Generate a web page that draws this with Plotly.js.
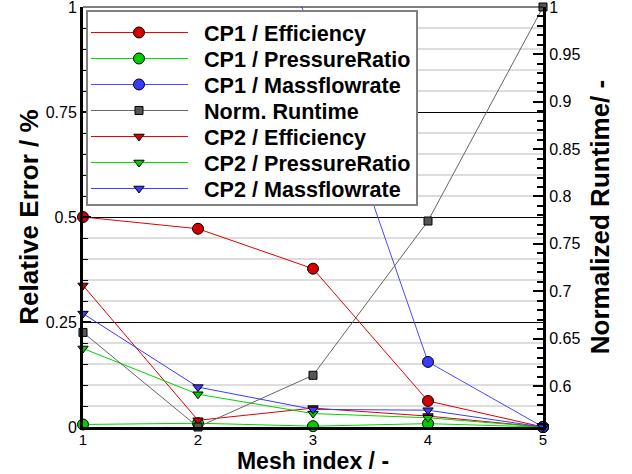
<!DOCTYPE html>
<html><head><meta charset="utf-8">
<script src="https://cdn.plot.ly/plotly-3.0.1.min.js"></script>
<style>html,body{margin:0;padding:0;background:#fff;} #chart{width:632px;height:474px;}</style>
</head><body><div id="chart"></div>
<script>
// ---- data ----
const meshIndex = [1, 2, 3, 4, 5];
const xTickLabels = ['1', '2', '3', '4', '5'];
const cp1Efficiency    = [0.500, 0.472, 0.377, 0.062, 0.000];
const cp1PressureRatio = [0.006, 0.009, 0.002, 0.008, 0.000];
const cp1Massflowrate  = [2.100, 1.500, 0.945, 0.155, 0.000];
const normRuntime      = [0.6565, 0.5567, 0.6113, 0.7741, 1.000];
const cp2Efficiency    = [0.337, 0.016, 0.045, 0.026, 0.000];
const cp2PressureRatio = [0.187, 0.078, 0.032, 0.022, 0.000];
const cp2Massflowrate  = [0.270, 0.095, 0.042, 0.040, 0.000];
const seriesNames = ['CP1 / Efficiency', 'CP1 / PressureRatio', 'CP1 / Massflowrate',
  'Norm. Runtime', 'CP2 / Efficiency', 'CP2 / PressureRatio', 'CP2 / Massflowrate'];

const RED = '#d40000', GREEN = '#00cc00', BLUE = '#3a3aff', GRAY = '#555555';

function tr(name, y, color, lineColor, symbol, size, axis) {
  return {
    type: 'scatter', mode: 'lines+markers', name: name, x: meshIndex, y: y,
    yaxis: axis || 'y', cliponaxis: false,
    line: {color: lineColor, width: 1},
    marker: {symbol: symbol, size: size, color: color, line: {color: '#000', width: 1}}
  };
}

const data = [
  tr(seriesNames[0], cp1Efficiency, RED, '#e00000', 'circle', 11),
  tr(seriesNames[1], cp1PressureRatio, GREEN, '#00d400', 'circle', 11),
  tr(seriesNames[2], cp1Massflowrate, BLUE, '#4848ff', 'circle', 11),
  tr(seriesNames[3], normRuntime, GRAY, '#666666', 'square', 8, 'y2'),
  tr(seriesNames[4], cp2Efficiency, RED, '#e00000', 'triangle-down', 9),
  tr(seriesNames[5], cp2PressureRatio, GREEN, '#00d400', 'triangle-down', 9),
  tr(seriesNames[6], cp2Massflowrate, BLUE, '#3a3aff', 'triangle-down', 9)
];

const layout = {
  width: 632, height: 474,
  margin: {l: 83, r: 89, t: 7, b: 47, pad: 0},
  paper_bgcolor: '#fff', plot_bgcolor: '#fff',
  font: {family: 'Liberation Sans, Arial, Helvetica, sans-serif', color: '#000'},
  showlegend: true,
  xaxis: {
    range: [1, 5], tickvals: meshIndex, ticktext: xTickLabels,
    showgrid: false, zeroline: false, showline: true, linewidth: 3, linecolor: '#000',
    ticks: '', tickfont: {size: 15}, ticklabeloverflow: 'allow', ticklabelstandoff: -3,
    title: {text: 'Mesh index / -', font: {size: 23, weight: 'bold'}, standoff: 4}
  },
  yaxis: {
    range: [0, 1], tick0: 0, dtick: 0.25, ticklabeloverflow: 'allow',
    showgrid: true, gridcolor: '#000', gridwidth: 1, zeroline: false,
    showline: true, linewidth: 3, linecolor: '#000',
    ticks: 'inside', ticklen: 8, tickwidth: 2, tickcolor: '#000', tickfont: {size: 16},
    minor: {dtick: 0.05, showgrid: true, gridcolor: '#dddddd', gridwidth: 2,
            ticks: 'inside', ticklen: 5, tickwidth: 1, tickcolor: '#000'},
    title: {text: 'Relative Error / %', font: {size: 26, weight: 'bold'}, standoff: 0}
  },
  yaxis2: {
    overlaying: 'y', side: 'right', range: [0.5567, 1.00001], tick0: 0, dtick: 0.05,
    ticklabeloverflow: 'allow',
    showgrid: false, zeroline: false, showline: true, linewidth: 3, linecolor: '#000',
    ticks: 'inside', ticklen: 10, tickwidth: 2, tickcolor: '#000', tickfont: {size: 16},
    minor: {dtick: 0.01, ticks: 'inside', ticklen: 6, tickwidth: 1.5, tickcolor: '#000', showgrid: false},
    title: {text: 'Normalized Runtime/ -', font: {size: 26, weight: 'bold'}, standoff: 12}
  },
  legend: {
    x: 0.0065, y: 0.993, xanchor: 'left', yanchor: 'top',
    bgcolor: '#fff', bordercolor: '#808080', borderwidth: 2,
    font: {size: 21.6, weight: 'bold'}, itemwidth: 106, traceorder: 'normal'
  },
  shapes: [{type: 'line', xref: 'paper', yref: 'paper', x0: 0, x1: 1, y0: 1, y1: 1,
            line: {color: '#000', width: 1}}]
};

Plotly.newPlot('chart', data, layout, {displayModeBar: false}).then(function (gd) {
  try {
    const items = gd.querySelectorAll('.legend .traces');
    let y0 = null, oldStep = 0;
    const pos = [];
    items.forEach(function (t) {
      const m = /translate\(([-\d.]+)\s*,\s*([-\d.]+)\)/.exec(t.getAttribute('transform') || '');
      pos.push(m ? [parseFloat(m[1]), parseFloat(m[2])] : [0, 0]);
    });
    if (pos.length > 1) { y0 = pos[0][1]; oldStep = pos[1][1] - pos[0][1]; }
    const step = 26;
    items.forEach(function (t, i) {
      t.querySelectorAll('.legendlines path').forEach(function (p) { p.setAttribute('d', 'M3,0h97'); });
      t.querySelectorAll('.legendpoints path').forEach(function (p) { p.setAttribute('transform', 'translate(51,0)'); });
      if (y0 !== null) t.setAttribute('transform', 'translate(' + pos[i][0] + ',' + (y0 + i * step) + ')');
    });
    if (oldStep > step) {
      const bg = gd.querySelector('.legend .bg');
      if (bg) { const h = parseFloat(bg.getAttribute('height')); bg.setAttribute('height', h - (oldStep - step) * items.length); }
    }
  } catch (e) {}
});
</script>
</body></html>
